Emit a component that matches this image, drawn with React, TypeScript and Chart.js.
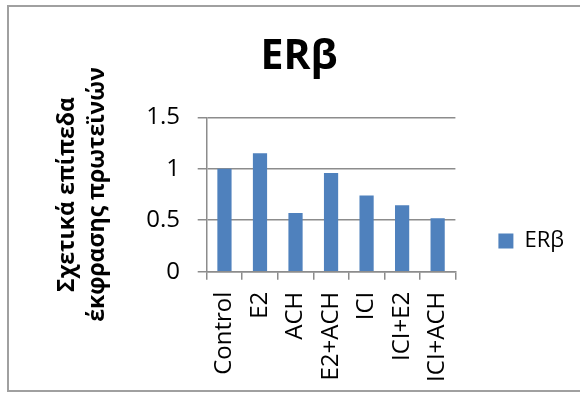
import { useEffect, useRef } from "react";
import { Chart, registerables } from "chart.js";

Chart.register(...registerables);

const categories = ["Control", "E2", "ACH", "E2+ACH", "ICI", "ICI+E2", "ICI+ACH"];
const values = [1.0, 1.15, 0.57, 0.96, 0.74, 0.645, 0.52];
const seriesName = "ERβ";
const chartTitle = "ERβ";
const yAxisTitle = ["Σχετικά επίπεδα", "έκφρασης πρωτεϊνών"];
const yMin = 0;
const yMax = 1.5;
const yStep = 0.5;

const FONT = "'Open Sans', 'Noto Sans', 'DejaVu Sans', sans-serif";
const GRID = "#8c8c8c";
const BAR = "#4f81bd";

export default function App() {
  const ref = useRef<HTMLCanvasElement | null>(null);

  useEffect(() => {
    if (!ref.current) return;
    const chart = new Chart(ref.current, {
      type: "bar",
      data: {
        labels: categories,
        datasets: [
          {
            label: seriesName,
            data: values,
            backgroundColor: BAR,
            borderWidth: 0,
            barPercentage: 0.4,
            categoryPercentage: 1.0,
          },
        ],
      },
      options: {
        responsive: false,
        animation: false,
        layout: { padding: { left: 24, right: 6, top: 0, bottom: 0 } },
        plugins: {
          tooltip: { enabled: false },
          title: {
            display: true,
            text: chartTitle,
            color: "#000",
            font: { family: FONT, size: 41, weight: "bold", lineHeight: 1.2 },
            padding: { top: 32.4, bottom: 35.7 },
          },
          legend: {
            position: "right",
            labels: {
              boxWidth: 15,
              boxHeight: 15,
              padding: 43,
              color: "#000",
              font: { family: FONT, size: 22 },
            },
            title: {
              display: true,
              text: " ",
              padding: { top: 74.6, bottom: 0 },
              font: { family: FONT, size: 12, lineHeight: 1.2 },
            },
          },
        },
        scales: {
          x: {
            afterFit: (scale: any) => {
              scale.height = 121.3;
            },
            grid: {
              drawOnChartArea: false,
              drawTicks: true,
              tickLength: 8,
              color: GRID,
              lineWidth: 1.5,
            },
            border: { color: GRID, width: 1.5 },
            ticks: {
              minRotation: 90,
              maxRotation: 90,
              padding: 12,
              color: "#000",
              font: { family: FONT, size: 24 },
            },
          },
          y: {
            min: yMin,
            max: yMax,
            afterFit: (scale: any) => {
              scale.width = 182.7;
            },
            ticks: {
              stepSize: yStep,
              padding: 17.7,
              color: "#000",
              font: { family: FONT, size: 24 },
              callback: (v: any) => String(Number(v)),
            },
            grid: { tickLength: 9, color: GRID, lineWidth: 1.5 },
            border: { color: GRID, width: 1.5 },
            title: {
              display: true,
              text: yAxisTitle,
              color: "#000",
              font: { family: FONT, size: 23, weight: "bold", lineHeight: 30 / 23 },
              padding: { top: 28.5, bottom: 4 },
            },
          },
        },
      },
    });
    return () => chart.destroy();
  }, []);

  return (
    <div style={{ position: "fixed", left: 0, top: 0, width: 580, height: 393, background: "#fff" }}>
      <canvas ref={ref} width={580} height={393} style={{ position: "absolute", left: 0, top: 0 }} />
      <div
        style={{
          position: "absolute",
          left: 7,
          top: 5,
          width: 571,
          height: 383,
          borderTop: "2px solid #a0a0a0",
          borderLeft: "2px solid #a0a0a0",
          borderBottom: "2px solid #a0a0a0",
          pointerEvents: "none",
        }}
      />
    </div>
  );
}
